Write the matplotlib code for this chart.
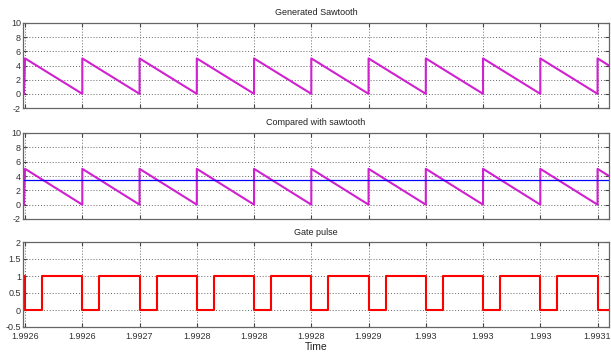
import matplotlib
matplotlib.use('Agg')
import matplotlib.pyplot as plt

# sawtooth carrier: reset instants (one per period), peak and floor values
reset_times = [1.9926, 1.99265, 1.9927, 1.99275, 1.9928, 1.99285,
               1.9929, 1.99295, 1.9930, 1.99305, 1.9931]
saw_peak = 5.0
saw_floor = 0.0
t_start = 1.992599
t_end = 1.99311
saw_end = 4.0

# comparison level
ref_level = 3.5

# gate pulse switching instants (rises to 1 when sawtooth < ref level)
rise_times = [1.992615, 1.992665, 1.992715, 1.992765, 1.992815, 1.992865,
              1.992915, 1.992965, 1.993015, 1.993065]

tick_pos = reset_times
tick_labels = ['1.9926', '1.9926', '1.9927', '1.9928', '1.9928', '1.9928',
               '1.9929', '1.993', '1.993', '1.993', '1.9931']

# build sawtooth vertices
saw_t, saw_v = [t_start], [saw_floor]
for i, t in enumerate(reset_times):
    saw_t += [t]
    saw_v += [saw_peak]
    if i + 1 < len(reset_times):
        saw_t += [reset_times[i + 1]]
        saw_v += [saw_floor]
saw_t += [t_end]
saw_v += [saw_end]

# build gate vertices
gate_t, gate_v = [t_start], [1]
for i, t in enumerate(reset_times):
    gate_t += [t, t]
    gate_v += [1, 0]
    if i < len(rise_times):
        gate_t += [rise_times[i], rise_times[i]]
        gate_v += [0, 1]
gate_t += [t_end]
gate_v += [0]

plt.rcParams['font.family'] = ['Liberation Sans', 'DejaVu Sans']
plt.rcParams['font.size'] = 6.5
plt.rcParams['axes.unicode_minus'] = False

fig = plt.figure(figsize=(6.11, 3.53), dpi=100)
W, H = 611, 353
left, right = 23 / W, 609 / W

def make_ax(top_px, bot_px):
    ax = fig.add_axes([left, 1 - bot_px / H, right - left, (bot_px - top_px) / H])
    ax.set_xlim(t_start - 0.0000008, t_end)
    ax.set_xticks(tick_pos)
    ax.grid(True, linestyle=(0, (1, 2)), color='#666666', linewidth=0.7)
    ax.tick_params(direction='in', top=True, right=True, length=3,
                   colors='#444444', labelcolor='#333333')
    ax.tick_params(axis='y', pad=1.5)
    ax.tick_params(axis='x', pad=3.5)
    for s in ax.spines.values():
        s.set_color('#666666')
        s.set_linewidth(0.9)
    return ax

ax1 = make_ax(23, 108)
ax1.plot(saw_t, saw_v, color='#d020d0', linewidth=1.5)
ax1.set_ylim(-2, 10)
ax1.set_yticks([-2, 0, 2, 4, 6, 8, 10])
ax1.set_xticklabels([])
ax1.set_title('Generated Sawtooth', fontsize=6.5, pad=6, color='#222222')

ax2 = make_ax(133, 219)
ax2.plot(saw_t, saw_v, color='#d020d0', linewidth=1.5)
ax2.axhline(ref_level, color='#0000ff', linewidth=0.9)
ax2.set_ylim(-2, 10)
ax2.set_yticks([-2, 0, 2, 4, 6, 8, 10])
ax2.set_xticklabels([])
ax2.set_title('Compared with sawtooth', fontsize=6.5, pad=6, color='#222222')

ax3 = make_ax(242, 327)
ax3.plot(gate_t, gate_v, color='#ff0000', linewidth=1.5)
ax3.set_ylim(-0.5, 2)
ax3.set_yticks([-0.5, 0, 0.5, 1, 1.5, 2])
ax3.set_yticklabels(['-0.5', '0', '0.5', '1', '1.5', '2'])
ax3.set_xticklabels(tick_labels)
ax3.set_title('Gate pulse', fontsize=6.5, pad=5, color='#222222')
ax3.set_xlabel('Time', fontsize=7.5, labelpad=1, color='#222222')

fig.savefig('out.png', dpi=100)
